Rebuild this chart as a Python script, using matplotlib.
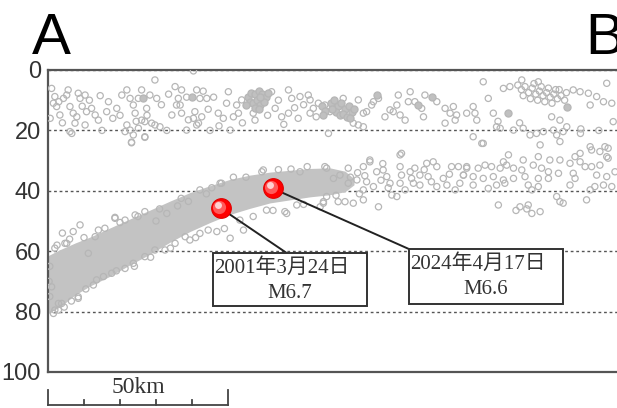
import matplotlib
matplotlib.use('Agg')
import matplotlib.pyplot as plt
from matplotlib.patches import Rectangle
from matplotlib.transforms import offset_copy, blended_transform_factory

# distance along section (km) / depth (km)
band_x = [0, 3.3, 7.5, 11.7, 17.2, 22.8, 28.3, 33.9, 39.4, 45.0, 50.6, 56.1,
          61.7, 67.2, 72.8, 78.3, 82.5, 85.0]
band_top = [61.5, 59.5, 57.3, 55.3, 52.3, 49.3, 46.4, 43.4, 40.6, 38.3, 36.2, 34.8,
            33.8, 33.2, 32.6, 32.4, 33.5, 36.0]
band_bot = [80.5, 78.5, 74.5, 71.5, 68.3, 64.5, 61.0, 57.0, 53.5, 50.5, 47.8, 45.8,
            44.0, 43.0, 42.0, 41.3, 40.3, 38.0]

crust = [
    (1.0, 6.1), (1.9, 8.8), (1.5, 11.0), (2.4, 12.1), (3.3, 14.9), (0.6, 16.0), (4.3, 9.4),
    (5.6, 6.6), (5.2, 8.3), (6.1, 12.1), (7.0, 14.3), (8.0, 15.5), (8.4, 7.7), (8.9, 9.4),
    (10.3, 8.3), (10.7, 13.8), (12.1, 12.7), (13.1, 14.9), (14.0, 16.6), (7.5, 17.6),
    (6.1, 20.4), (10.3, 18.2), (16.3, 13.8), (16.8, 10.5), (19.1, 12.7), (20.5, 8.3),
    (21.9, 6.6), (22.8, 9.4), (23.7, 11.6), (24.2, 14.3), (25.1, 9.4), (26.0, 6.6),
    (27.4, 12.7), (28.3, 8.3), (30.2, 9.4), (26.0, 16.6), (26.9, 17.1), (28.8, 17.6),
    (29.7, 18.2), (31.1, 18.8), (21.9, 18.2), (22.8, 19.9), (21.4, 20.4), (23.7, 21.5),
    (23.2, 23.9), (26.9, 22.1), (25.1, 19.3), (29.7, 3.3), (35.3, 5.5), (37.1, 6.6),
    (36.2, 9.4), (35.7, 11.6), (36.7, 11.6), (34.4, 14.9), (37.1, 14.3), (41.3, 6.6),
    (43.1, 7.0), (42.2, 9.4), (44.1, 9.4), (40.8, 13.8), (40.4, 16.0), (41.8, 17.6),
    (42.7, 15.5), (41.3, 18.2), (38.5, 19.9), (47.3, 14.3), (48.7, 16.0), (49.6, 11.0),
    (50.1, 7.2), (52.4, 11.6), (52.9, 14.3), (50.6, 19.9), (53.8, 9.9), (57.0, 14.3),
    (57.5, 16.6), (63.1, 12.7), (62.1, 7.2), (64.9, 15.5), (66.8, 6.6), (67.7, 9.4),
    (66.8, 14.3), (70.0, 8.8), (69.5, 16.0), (72.3, 8.3), (72.8, 9.9), (72.8, 14.3),
    (73.7, 12.7), (75.1, 11.0), (76.9, 11.6), (78.3, 13.8), (77.9, 21.0), (6.6, 21.0),
    (23.2, 24.1), (26.9, 22.3), (40.4, 0.3), (33.0, 20.0), (45.0, 20.0), (15.0, 20.0),
    (3.0, 10.5), (4.0, 17.5), (9.5, 12.0), (11.5, 10.0), (14.5, 8.5), (18.0, 16.0),
    (20.0, 15.0), (24.5, 17.0), (27.5, 15.0), (31.5, 11.5), (33.5, 8.0), (38.5, 9.0),
    (39.0, 16.5), (44.5, 13.0), (46.0, 9.0), (47.5, 18.5), (51.5, 15.5), (54.0, 17.5),
    (61.0, 15.0), (64.0, 10.0), (65.5, 18.0), (68.5, 12.5), (71.0, 11.5), (74.5, 15.5),
    (80.2, 11.6), (82.0, 9.4), (86.2, 9.9), (87.6, 14.3), (88.5, 13.8), (84.8, 17.6),
    (86.2, 18.2), (87.6, 18.8), (90.4, 10.5), (91.8, 9.4), (89.9, 11.6), (93.6, 15.5),
    (95.0, 13.2), (95.9, 13.8), (96.9, 11.6), (97.3, 8.3), (97.8, 14.9), (99.2, 16.6),
    (100.6, 7.2), (100.1, 10.5), (101.9, 10.5), (103.8, 12.7), (104.3, 15.5), (104.7, 8.3),
    (108.0, 10.5), (110.3, 12.7), (111.7, 14.3), (112.6, 12.1), (113.5, 14.9), (113.1, 16.6),
    (110.3, 17.6), (116.3, 14.3), (118.1, 12.1), (118.6, 14.3), (119.1, 16.6), (120.9, 3.9),
    (122.3, 9.4), (123.7, 14.3), (126.5, 6.1), (128.3, 5.5), (131.6, 3.3), (136.2, 3.9),
    (145.9, 6.6), (147.8, 7.2), (150.1, 7.7), (152.4, 8.8), (150.6, 11.6), (154.3, 10.5),
    (155.2, 4.4), (156.6, 11.0), (139.9, 15.5), (142.2, 16.6), (124.6, 18.8), (125.6, 19.3),
    (129.3, 19.9), (132.0, 19.3), (133.9, 21.5), (135.7, 21.0), (137.6, 20.4), (140.4, 19.9),
    (141.3, 21.5), (143.1, 20.4), (144.1, 18.8), (142.2, 23.7), (147.9, 21.0), (118.1, 22.1),
    (120.9, 24.3), (136.7, 24.8), (150.6, 25.4), (154.7, 25.4), (157.0, 17.1), (120.5, 24.3),
    (125.0, 17.0), (131.0, 17.5), (153.0, 20.0), (148.0, 19.5),
    (130.5, 5.0), (131.5, 6.5), (132.5, 5.5), (133.5, 7.5), (134.5, 6.0), (135.5, 8.0),
    (136.5, 7.0), (137.5, 8.5), (138.5, 7.5), (139.5, 9.0), (140.5, 8.0), (141.5, 9.5),
    (142.5, 8.5), (143.5, 10.0), (132.0, 8.5), (134.0, 9.5), (136.0, 10.0), (138.0, 10.5),
    (140.0, 11.0), (142.0, 6.5), (144.0, 7.5), (135.0, 4.5), (137.0, 5.5), (139.0, 6.0),
    (141.0, 6.5),
]

crust_dense = [
    (26.5, 9.4), (39.9, 8.8), (91.3, 8.3), (102.9, 11.6), (106.6, 8.8), (127.9, 14.3),
    (144.1, 12.1),
    (55.5, 9.0), (56.5, 7.5), (57.5, 8.0), (58.5, 7.0), (59.5, 8.0), (60.5, 9.0), (56.0, 10.5),
    (57.0, 11.0), (58.0, 10.0), (59.0, 11.5), (60.0, 10.5), (57.5, 12.5), (58.5, 13.0),
    (55.0, 11.5), (59.0, 9.0), (61.0, 7.5),
    (78.5, 11.0), (79.5, 10.0), (80.5, 12.0), (81.5, 11.0), (82.5, 13.0), (83.5, 12.0),
    (84.5, 14.0), (80.0, 14.0), (81.0, 15.0), (82.0, 14.5), (83.0, 15.5), (84.0, 16.0),
    (79.0, 13.0), (85.0, 13.0), (76.0, 12.0), (77.0, 13.5), (76.5, 15.0),
]

slab = [
    (98.2, 27.6), (89.4, 29.8), (87.6, 32.0), (83.4, 32.5), (76.9, 32.0), (93.1, 33.1),
    (94.1, 35.3), (97.8, 32.0), (98.2, 34.8), (100.6, 33.7), (101.9, 32.5), (103.3, 34.8),
    (105.2, 30.9), (107.0, 30.4), (108.0, 32.0), (105.6, 35.3), (109.8, 35.9), (110.8, 38.1),
    (112.1, 32.0), (114.0, 32.0), (116.3, 32.0), (115.4, 34.8), (113.1, 39.7), (99.2, 39.7),
    (96.9, 41.9), (95.5, 41.4), (91.8, 45.3), (87.6, 43.0), (84.8, 44.1), (82.5, 43.6),
    (80.6, 43.6), (76.5, 44.1), (77.4, 41.9), (85.8, 36.4), (88.5, 37.0), (90.4, 38.6),
    (87.6, 39.7), (91.3, 33.7), (81.1, 34.8), (79.3, 35.9), (83.4, 37.5), (101.5, 37.5),
    (103.3, 38.1), (108.0, 38.6), (97.8, 37.5), (95.0, 37.5), (101.0, 35.9), (97.8, 28.1),
    (89.4, 30.4), (86.0, 34.0), (84.0, 35.5), (88.0, 35.0), (92.5, 36.5), (94.5, 39.0),
    (86.5, 41.0), (104.5, 33.0), (106.5, 37.0), (111.5, 34.5), (93.0, 31.0),
    (127.9, 28.1), (126.5, 30.4), (132.0, 29.8), (136.2, 28.7), (139.4, 29.8), (142.2, 29.8),
    (146.4, 28.7), (147.8, 27.6), (151.0, 26.5), (153.3, 27.0), (155.6, 25.9), (155.2, 28.7),
    (116.3, 32.5), (119.5, 32.5), (121.4, 31.5), (123.2, 32.0), (125.6, 32.5), (127.4, 31.5),
    (129.3, 32.5), (131.6, 33.1), (134.8, 31.5), (137.1, 32.5), (139.0, 33.7), (141.8, 34.2),
    (145.0, 30.9), (147.8, 30.4), (149.2, 32.0), (151.0, 32.0), (153.3, 31.5), (155.6, 29.2),
    (115.4, 34.8), (118.1, 35.3), (120.9, 35.9), (123.7, 35.3), (126.5, 36.4), (129.3, 35.9),
    (132.5, 35.3), (136.2, 35.9), (139.0, 35.9), (145.9, 34.2), (146.4, 35.9), (152.4, 34.8),
    (155.2, 35.3), (157.5, 33.7), (114.4, 37.5), (118.1, 38.1), (122.3, 39.2), (124.6, 38.1),
    (126.9, 37.5), (133.4, 38.1), (134.4, 39.7), (136.2, 38.6), (145.0, 38.1), (151.9, 38.6),
    (154.3, 38.1), (156.6, 38.6), (150.6, 39.7), (125.1, 44.7), (131.1, 45.3), (133.4, 44.7),
    (134.4, 47.5), (136.7, 46.9), (141.3, 41.9), (142.2, 43.6), (143.1, 44.1), (149.6, 43.0),
    (130.0, 46.5), (133.0, 46.0),
    (8.9, 51.3), (18.6, 49.1), (4.7, 57.4), (1.9, 59.0), (8.4, 75.1), (12.6, 71.2),
    (15.4, 68.4), (21.4, 65.7), (23.7, 64.0), (26.9, 61.8), (29.7, 59.6), (32.5, 59.6),
    (35.3, 57.4), (38.1, 55.2), (17.7, 67.3), (11.2, 60.7), (13.1, 55.2), (15.8, 52.4),
    (21.4, 49.7), (24.2, 48.0), (26.9, 46.9), (1.0, 71.8), (2.9, 77.3), (1.9, 79.5),
    (18.6, 48.8), (5.2, 57.4), (50.6, 55.7), (46.9, 53.5), (53.3, 49.7), (65.8, 46.9),
    (59.8, 33.1), (47.8, 37.5), (42.2, 39.7), (48.2, 37.5), (59.4, 33.7), (70.0, 33.7),
    (77.4, 32.5), (54.3, 53.0), (60.7, 46.4), (66.3, 47.5), (69.1, 44.7), (75.6, 45.3),
    (76.5, 43.6), (42.2, 54.1), (39.4, 56.3), (8.4, 75.6), (3.8, 77.3), (1.5, 80.6),
    (2.9, 79.5), (0.5, 65.0), (0.3, 70.0), (0.5, 75.0), (4.0, 54.0), (7.0, 53.5),
    (10.0, 55.5), (30.0, 50.0), (33.0, 47.5), (36.0, 45.0), (39.0, 43.5), (44.0, 41.0),
    (55.0, 35.5), (64.0, 33.0), (72.0, 32.0), (14.0, 53.0), (20.0, 50.5), (25.0, 48.5),
    (31.0, 46.0), (37.0, 42.5), (6.0, 56.0), (2.5, 58.0), (10.5, 72.5), (13.5, 69.5),
    (19.0, 66.5), (24.0, 65.0), (28.5, 62.0), (34.0, 59.0), (41.0, 55.5), (44.5, 53.0),
    (49.0, 52.5), (57.0, 48.5), (62.5, 46.5), (71.0, 44.5), (80.0, 41.5), (67.5, 32.8),
    (51.5, 35.5), (45.5, 39.0), (6.5, 76.5), (4.5, 78.5),
]

ev_x = [48.0, 62.4]
ev_d = [45.8, 39.2]
ev_date = ['2001年3月24日', '2024年4月17日']
ev_mag = ['M6.7', 'M6.6']

depth_ticks = [0, 20, 40, 60, 80, 100]
scale_ticks = [0, 10, 20, 30, 40, 50]

fig = plt.figure(figsize=(6.17, 4.08), dpi=100)
ax = fig.add_axes([48 / 617, 36 / 408, 576 / 617, 302 / 408])
ax.set_xlim(0, 160)
ax.set_ylim(100, 0)

ax.fill_between(band_x, band_top, band_bot, color='#c3c3c3', lw=0, zorder=2)
ax.scatter([p[0] for p in crust], [p[1] for p in crust], s=20, facecolor='none',
           edgecolor='#b6b6b6', linewidth=0.9, zorder=3)
ax.scatter([p[0] for p in slab], [p[1] for p in slab], s=20, facecolor='none',
           edgecolor='#b6b6b6', linewidth=0.9, zorder=3)
ax.scatter([p[0] for p in crust_dense], [p[1] for p in crust_dense], s=26,
           facecolor='#c0c0c0', edgecolor='#b6b6b6', linewidth=0.9, zorder=3)

# leader lines and boxes
boxes = [(45.8, 60.6, 42.8, 17.5), (100.3, 59.3, 42.8, 18.2)]
line_ends = [(66.3, 60.6), (100.3, 59.3)]
cjk = ['Liberation Serif', 'Noto Sans CJK JP']
for i in range(2):
    bx, by, bw, bh = boxes[i]
    ax.plot([ev_x[i], line_ends[i][0]], [ev_d[i], line_ends[i][1]], color='#222222',
            lw=1.4, zorder=4)
    ax.add_patch(Rectangle((bx, by), bw, bh, facecolor='white', edgecolor='#333333',
                           lw=1.4, zorder=5))
    ax.text(bx + 0.3, by + 5.0, ev_date[i], family=cjk, fontsize=15, color='#333333',
            ha='left', va='center', zorder=6)
    ax.text(bx + bw / 2, by + 13.4, ev_mag[i], family=cjk, fontsize=15, color='#333333',
            ha='center', va='center', zorder=6)

ax.scatter(ev_x, ev_d, s=200, color='#ff0000', edgecolor='#e00000', lw=0.8, zorder=7)
mid = offset_copy(ax.transData, fig=fig, x=-1.5, y=1.5, units='dots')
ax.scatter(ev_x, ev_d, s=90, color='#ff5a5a', lw=0, transform=mid, zorder=8)
hi = offset_copy(ax.transData, fig=fig, x=-3, y=3, units='dots')
ax.scatter(ev_x, ev_d, s=25, color='#ffd0d0', lw=0, transform=hi, zorder=9)

ax.set_yticks(depth_ticks)
ax.set_xticks([])
ax.yaxis.grid(True, linestyle=(0, (2, 2)), color='#555555', lw=1)
ax.set_axisbelow(True)
ax.tick_params(axis='y', length=0, pad=5, labelsize=17, labelcolor='#333333')
for lab in ax.get_yticklabels():
    lab.set_family('Liberation Sans')
ax.spines['right'].set_visible(False)
for side in ['left', 'top', 'bottom']:
    ax.spines[side].set_color('#555555')
    ax.spines[side].set_linewidth(1.6)

# scale bar
tr = blended_transform_factory(ax.transData, ax.transAxes)
ax.plot([scale_ticks[0], scale_ticks[-1]], [-0.109, -0.109], transform=tr,
        color='#444444', lw=1.3, clip_on=False)
for k in scale_ticks:
    top = -0.0596 if k in (scale_ticks[0], scale_ticks[-1]) else -0.0927
    ax.plot([k, k], [-0.109, top], transform=tr, color='#444444', lw=1.3, clip_on=False)
ax.text(25, -0.068, '50km', transform=tr, family='Liberation Serif', fontsize=17,
        color='#333333', ha='center', va='baseline')

fig.text(32 / 617, 1 - 54 / 408, 'A', family='Liberation Sans', fontsize=42,
         va='baseline', ha='left')
fig.text(585 / 617, 1 - 54 / 408, 'B', family='Liberation Sans', fontsize=42,
         va='baseline', ha='left')

fig.savefig('out.png', dpi=100)
